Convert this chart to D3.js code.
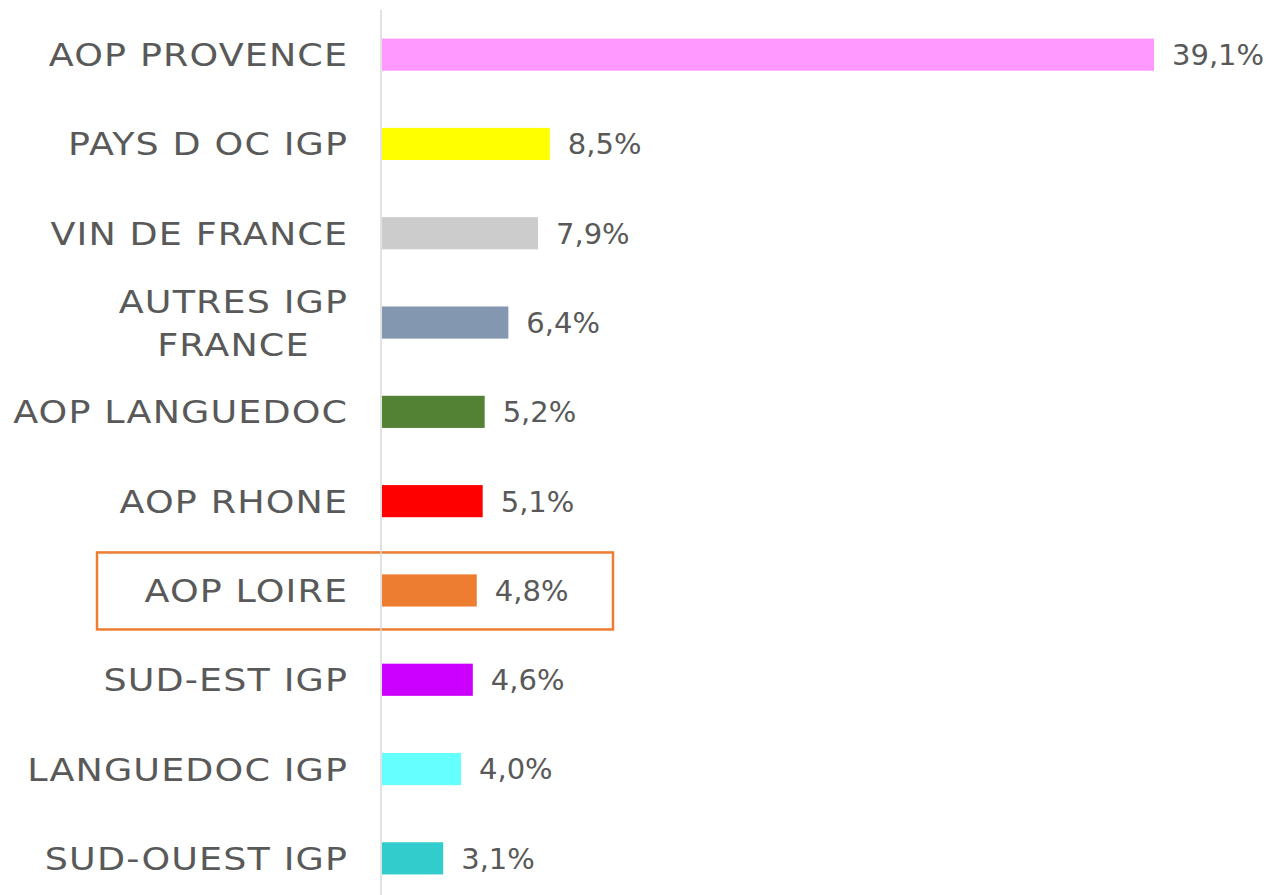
<!DOCTYPE html>
<html>
<head>
<meta charset="utf-8">
<script src="https://cdn.jsdelivr.net/npm/d3@7"></script>
<style>
  body { margin: 0; background: #fff; }
  svg text { font-family: "DejaVu Sans", sans-serif; fill: #595959; }
</style>
</head>
<body>
<div class="graph"></div>
<script>
// data
var categories = ["AOP PROVENCE", "PAYS D OC IGP", "VIN DE FRANCE", "AUTRES IGP|FRANCE",
    "AOP LANGUEDOC", "AOP RHONE", "AOP LOIRE", "SUD-EST IGP", "LANGUEDOC IGP", "SUD-OUEST IGP"];
var values = [39.1, 8.5, 7.9, 6.4, 5.2, 5.1, 4.8, 4.6, 4.0, 3.1];
var colors = ["#FF99FF", "#FFFF00", "#CCCCCC", "#8497B0", "#548235",
    "#FF0000", "#ED7D31", "#CC00FF", "#66FFFF", "#33CCCC"];
var highlighted = "AOP LOIRE";

var width = 1270,
    height = 895,
    margin = { top: 10, right: 0, bottom: 0, left: 381 };

var labelEnd = 347,
    ls = 1,        // letter spacing of the category labels
    stretch = 1.14; // the original font is much wider than DejaVu

var svg = d3.select('.graph').append('svg')
    .attr('width', width)
    .attr('height', height);

var x = d3.scaleLinear()
    .domain([0, 39.1])
    .range([margin.left + 1, 1154]);

var y = d3.scaleBand()
    .domain(categories)
    .range([margin.top, margin.top + 893])
    .paddingInner(0.64)
    .paddingOuter(0.32);

// highlight box round the chosen row
var hy = y(highlighted) + y.bandwidth() / 2;
svg.append('rect')
    .attr('x', 97)
    .attr('y', hy - 38)
    .attr('width', 516)
    .attr('height', 77)
    .attr('fill', 'none')
    .attr('stroke', '#ED7D31')
    .attr('stroke-width', 2.5);

// axis line
svg.append('line')
    .attr('x1', margin.left).attr('x2', margin.left)
    .attr('y1', margin.top).attr('y2', height)
    .attr('stroke', '#d9d9d9')
    .attr('stroke-width', 1.5);

// bars
svg.selectAll('.bar')
    .data(values)
    .enter().append('rect')
    .attr('class', 'bar')
    .attr('x', x(0))
    .attr('y', function (d, i) { return y(categories[i]); })
    .attr('width', function (d) { return x(d) - x(0); })
    .attr('height', y.bandwidth())
    .attr('fill', function (d, i) { return colors[i]; });

// value labels
svg.selectAll('.value')
    .data(values)
    .enter().append('text')
    .attr('class', 'value')
    .attr('x', function (d) { return x(d) + 18; })
    .attr('y', function (d, i) { return y(categories[i]) + y.bandwidth() / 2; })
    .attr('dy', '0.36em')
    .style('font-size', '29px')
    .text(function (d) { return d.toFixed(1).replace('.', ',') + '%'; });

// category labels (| splits lines, extra lines centred under the first)
var labels = svg.selectAll('.label')
    .data(categories)
    .enter().append('text')
    .attr('class', 'label')
    .style('font-size', '32px')
    .style('letter-spacing', ls + 'px')
    .attr('transform', function (d) {
        return 'translate(' + labelEnd + ',' + (y(d) + y.bandwidth() / 2) + ') scale(' + stretch + ',1)';
    });

labels.each(function (d) {
    var lines = d.split('|'),
        t = d3.select(this);
    var spans = lines.map(function (l, i) {
        return t.append('tspan')
            .attr('y', (i - (lines.length - 1) / 2) * 43)
            .attr('dy', '0.36em')
            .text(l);
    });
    var w0 = spans[0].node().getComputedTextLength() - ls;
    spans.forEach(function (s) {
        var w = s.node().getComputedTextLength() - ls;
        s.attr('x', -w0 / 2 - w / 2);
    });
});
</script>
</body>
</html>
